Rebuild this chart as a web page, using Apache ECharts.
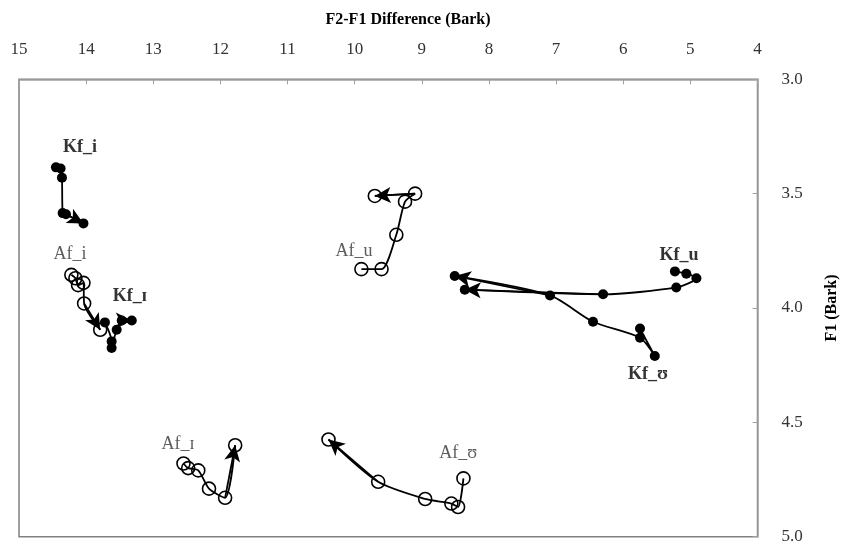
<!DOCTYPE html>
<html>
<head>
<meta charset="utf-8">
<script src="https://cdn.jsdelivr.net/npm/echarts@6/dist/echarts.min.js"></script>
<style>html,body{margin:0;padding:0;background:#fff}#c{width:841px;height:542px}</style>
</head>
<body>
<div id="c"></div>
<script>
// F2-F1 (Bark), F1 (Bark) trajectories
var Kf_i  = [[14.45,3.385],[14.38,3.39],[14.36,3.43],[14.35,3.585],[14.30,3.59],[14.04,3.63]];
var Af_i  = [[14.22,3.855],[14.16,3.87],[14.12,3.90],[14.04,3.89],[14.03,3.98],[13.79,4.095]];
var Kf_I  = [[13.72,4.063],[13.62,4.146],[13.62,4.175],[13.545,4.095],[13.47,4.055],[13.32,4.055]];
var Af_I  = [[12.55,4.68],[12.48,4.70],[12.33,4.71],[12.17,4.79],[11.93,4.83],[11.78,4.60]];
var Af_u  = [[9.90,3.83],[9.60,3.83],[9.38,3.68],[9.25,3.535],[9.10,3.50],[9.70,3.51]];
var Kf_u  = [[5.23,3.84],[5.06,3.85],[4.91,3.87],[5.21,3.91],[6.30,3.94],[8.36,3.92]];
var Kf_U  = [[5.75,4.09],[5.53,4.21],[5.75,4.13],[6.45,4.06],[7.09,3.945],[8.51,3.86]];
var Af_U  = [[8.38,4.745],[8.46,4.87],[8.56,4.855],[8.95,4.835],[9.65,4.76],[10.39,4.575]];

var kfLabels = [['Kf_i',14.09,3.296],['Kf_\u026A',13.35,3.951],['Kf_u',5.17,3.768],['Kf_\u028A',5.63,4.292]];
var afLabels = [['Af_i',14.24,3.763],['Af_\u026A',12.63,4.598],['Af_u',10.01,3.753],['Af_\u028A',8.46,4.634]];

var xTicks = {min: 4, max: 15, interval: 1};
var yTicks = {min: 3, max: 5, interval: 0.5};

var FONT = '"Liberation Serif","DejaVu Serif",serif';

function traj(name, pts, filled) {
  var n = pts.length;
  return {
    name: name,
    type: 'line',
    data: pts,
    smooth: 0.25,
    symbol: 'circle',
    symbolSize: filled ? 10 : 13,
    showSymbol: true,
    lineStyle: {color: '#000', width: 1.8},
    itemStyle: filled ? {color: '#000', borderColor: '#000', borderWidth: 0}
                      : {color: 'rgba(255,255,255,0)', borderColor: '#000', borderWidth: 1.6},
    z: 3,
    markLine: {
      silent: true,
      animation: false,
      symbol: ['none', 'arrow'],
      symbolSize: [12, 16],
      lineStyle: {color: '#000', width: 1.8, type: 'solid'},
      label: {show: false},
      data: [[{coord: pts[n-2]}, {coord: pts[n-1]}]]
    }
  };
}

function labels(arr, bold) {
  return {
    type: 'scatter',
    data: arr.map(function(a){ return [a[1], a[2], a[0]]; }),
    symbolSize: 1,
    itemStyle: {color: 'rgba(0,0,0,0)'},
    silent: true,
    z: 5,
    label: {
      show: true,
      position: 'inside',
      formatter: function(p){ return p.data[2]; },
      fontFamily: FONT,
      fontSize: 18,
      fontWeight: bold ? 'bold' : 'normal',
      color: bold ? '#000' : '#333'
    }
  };
}

var chart = echarts.init(document.getElementById('c'), null, {renderer: 'canvas'});
chart.setOption({
  animation: false,
  backgroundColor: '#fff',
  title: {
    text: 'F2-F1 Difference (Bark)',
    left: 403, top: 7, textAlign: 'center',
    textStyle: {fontFamily: FONT, fontSize: 16, fontWeight: 'bold', color: '#000'}
  },
  grid: {left: 19, right: 83.5, top: 79.3, bottom: 5.3, show: true, borderColor: '#808080', borderWidth: 1.5,
         backgroundColor: '#fff', outerBoundsMode: 'none', containLabel: false},
  xAxis: {
    type: 'value', position: 'top', inverse: true,
    min: xTicks.min, max: xTicks.max, interval: xTicks.interval,
    axisLine: {show: true, lineStyle: {color: '#a0a0a0', width: 1.5}},
    axisTick: {show: true, inside: true, length: 5, lineStyle: {color: '#a0a0a0'}},
    splitLine: {show: false},
    axisLabel: {margin: 21, fontFamily: FONT, fontSize: 17, color: '#333'}
  },
  yAxis: {
    type: 'value', position: 'right', inverse: true,
    min: yTicks.min, max: yTicks.max, interval: yTicks.interval,
    name: 'F1 (Bark)', nameLocation: 'middle', nameGap: 66, nameRotate: 90,
    nameTextStyle: {fontFamily: FONT, fontSize: 16, fontWeight: 'bold', color: '#000'},
    axisLine: {show: true, lineStyle: {color: '#a0a0a0', width: 1.5}},
    axisTick: {show: true, inside: true, length: 5, lineStyle: {color: '#a0a0a0'}},
    splitLine: {show: false},
    axisLabel: {margin: 24, fontFamily: FONT, fontSize: 17, color: '#333',
      formatter: function(v){ return v.toFixed(1); }}
  },
  series: [
    traj('Kf_i', Kf_i, true),
    traj('Af_i', Af_i, false),
    traj('Kf_\u026A', Kf_I, true),
    traj('Af_\u026A', Af_I, false),
    traj('Af_u', Af_u, false),
    traj('Kf_u', Kf_u, true),
    traj('Kf_\u028A', Kf_U, true),
    traj('Af_\u028A', Af_U, false),
    labels(kfLabels, true),
    labels(afLabels, false)
  ]
});
</script>
</body>
</html>
